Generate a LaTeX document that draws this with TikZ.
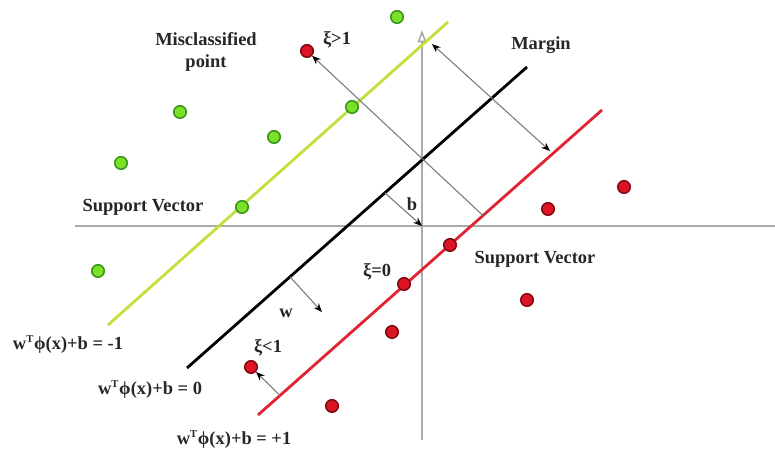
\documentclass[tikz,border=0pt]{standalone}
\usepackage{fontspec}
\setmainfont{Liberation Serif}
\usetikzlibrary{arrows.meta, positioning}
\definecolor{axisgray}{RGB}{170,170,170}
\definecolor{arrgray}{RGB}{120,120,120}
\definecolor{lnegreen}{RGB}{190,225,60}
\definecolor{lnered}{RGB}{225,35,50}
\definecolor{ptgreen}{RGB}{120,225,40}
\definecolor{ptgreendk}{RGB}{60,150,30}
\definecolor{ptred}{RGB}{220,20,35}
\definecolor{ptreddk}{RGB}{130,10,20}

\begin{document}
\begin{tikzpicture}[
    x=0.02cm, y=-0.02cm,
    >={Stealth[black, length=5pt, width=4pt]},
    axis/.style={draw=axisgray, line width=0.9pt},
    hyper/.style={line width=1.6pt},
    arr/.style={->, draw=arrgray, line width=0.6pt},
    gpt/.style={circle, draw=ptgreendk, fill=ptgreen, line width=0.9pt, minimum size=0.25cm, inner sep=0pt},
    rpt/.style={circle, draw=ptreddk, fill=ptred, line width=0.9pt, minimum size=0.25cm, inner sep=0pt},
    lbl/.style={font=\fontsize{10.5}{12.5}\selectfont\bfseries, text=black!85, align=center},
]
\useasboundingbox (0,0) rectangle (775,452);
% === Axes ===
\coordinate (o) at (422,226);
\coordinate (xl) at (75,226);
\coordinate (xr) at (775,226);
\coordinate (yb) at (422,440);
\coordinate (yt) at (422,30);
\draw[axis] (xl) -- (xr);
\draw[axis, -{Triangle[open, length=7pt, width=5pt]}] (yb) -- (yt);
% === Hyperplanes ===
\coordinate (g1) at (108,325); \coordinate (g2) at (448,22);
\coordinate (k1) at (187,368); \coordinate (k2) at (527,67);
\coordinate (r1) at (258,415); \coordinate (r2) at (602,110);
\draw[hyper, lnegreen] (g1) -- (g2);
\draw[hyper, black] (k1) -- (k2) coordinate[pos=0.582] (kb) coordinate[pos=0.303] (kw);
\draw[hyper, lnered] (r1) -- (r2) coordinate[pos=0.654] (rmis) coordinate[pos=0.064] (rxi);
% === Points ===
\node[gpt] (gp1) at (397,17) {};
\node[gpt] (gp2) at (180,112) {};
\node[gpt] (gp3) at (352,107) {};
\node[gpt] (gp4) at (274,137) {};
\node[gpt] (gp5) at (121,163) {};
\node[gpt] (gp6) at (242,207) {};
\node[gpt] (gp7) at (98,271) {};
\node[rpt] (mis) at (307,51) {};
\node[rpt] (rp1) at (624,187) {};
\node[rpt] (rp2) at (548,209) {};
\node[rpt] (rp3) at (450,245) {};
\node[rpt] (rp4) at (404,284) {};
\node[rpt] (rp5) at (527,300) {};
\node[rpt] (rp6) at (392,332) {};
\node[rpt] (xip) at (251,367) {};
\node[rpt] (rp7) at (332,406) {};
% === Arrows ===
\coordinate (mtop) at (432,44);
\coordinate (mbot) at (550,151);
\draw[arr, <->] (mtop) -- (mbot);
\draw[arr] (rmis) -- (mis);
\draw[arr] (kb) -- (o);
\coordinate (wend) at (322,312);
\draw[arr] (kw) -- (wend);
\draw[arr] (rxi) -- (xip);
% === Labels ===
\node[lbl] (lmis) at (206,52) {Misclassified\\point};
\node[lbl] (lxi1) at (337,40) {ξ>1};
\node[lbl] (lmargin) at (541,45) {Margin};
\node[lbl] (lsvl) at (143,207) {Support Vector};
\node[lbl] (lb) at (412,204) {b};
\node[lbl] (lsvr) at (535,259) {Support Vector};
\node[lbl] (lxi0) at (377,272) {ξ=0};
\node[lbl] (lw) at (286,313) {w};
\node[lbl] (lxi2) at (268,348) {ξ<1};
\node[lbl] (leqm) at (68,345) {w\textsuperscript{\fontsize{6}{6}\selectfont T}ϕ(x)+b = -1};
\node[lbl] (leqz) at (150,390) {w\textsuperscript{\fontsize{6}{6}\selectfont T}ϕ(x)+b = 0};
\node[lbl] (leqp) at (234,440) {w\textsuperscript{\fontsize{6}{6}\selectfont T}ϕ(x)+b = +1};
\end{tikzpicture}
\end{document}
